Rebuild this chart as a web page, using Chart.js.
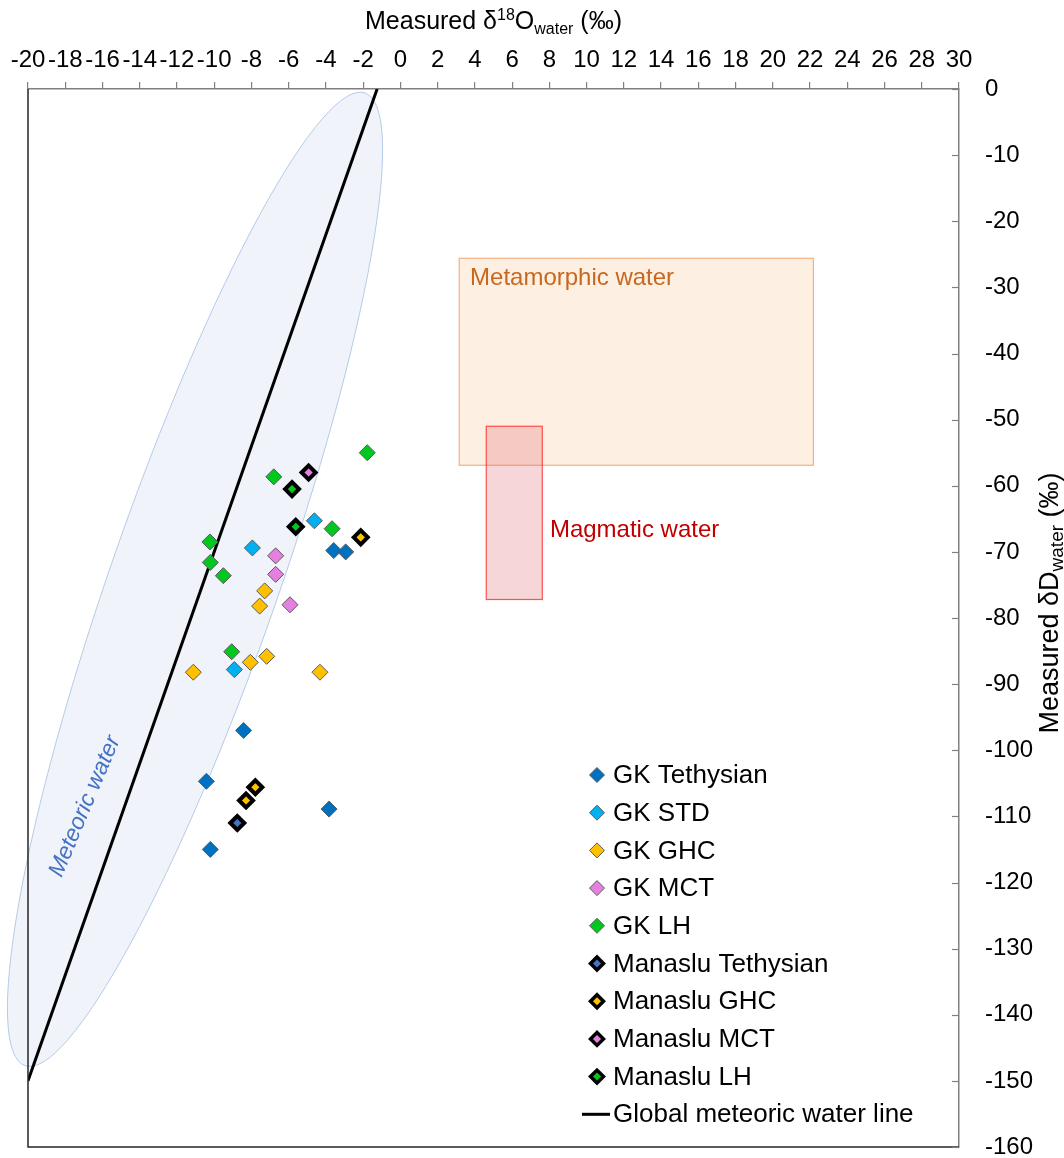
<!DOCTYPE html>
<html lang="en">
<head>
<meta charset="UTF-8">
<title>Measured δD vs δ18O of water</title>
<script src="https://cdn.jsdelivr.net/npm/chart.js"></script>
<style>
  html, body { margin: 0; padding: 0; background: #fff; }
  #wrap { width: 1064px; height: 1158px; position: relative; }
</style>
</head>
<body>
<div id="wrap"><canvas id="isoChart"></canvas></div>
<script>
// values: x = δ18O water, y = δD water (‰)
const gkTethysianX = [-3.58, -2.94, -8.42, -10.42, -3.83, -10.21];
const gkTethysianY = [-69.8, -70.0, -97.0, -104.7, -108.9, -115.0];
const gkStdX = [-4.62, -7.95, -8.92];
const gkStdY = [-65.3, -69.4, -87.8];
const gkGhcX = [-7.29, -7.56, -8.06, -7.18, -11.12, -4.32];
const gkGhcY = [-75.9, -78.2, -86.7, -85.8, -88.2, -88.2];
const gkMctX = [-6.70, -6.70, -5.93];
const gkMctY = [-70.6, -73.4, -78.0];
const gkLhX = [-1.78, -6.80, -3.67, -10.23, -10.21, -9.51, -9.06];
const gkLhY = [-55.0, -58.65, -66.5, -68.5, -71.6, -73.6, -85.1];
const manTethysianX = [-8.76];
const manTethysianY = [-111.0];
const manGhcX = [-2.13, -7.79, -8.29];
const manGhcY = [-67.8, -105.6, -107.6];
const manMctX = [-4.93];
const manMctY = [-58.0];
const manLhX = [-5.82, -5.62];
const manLhY = [-60.5, -66.2];
// global meteoric water line dD = 8*d18O + 10
const gmwlX = [-20, -1.25];
const gmwlY = [-150, 0];

// reference fields (data units)
const metamorphicBox = [3.16, 22.18, -25.6, -56.9];   // x0, x1, y0, y1
const magmaticBox = [4.61, 7.62, -51.0, -77.2];
const meteoricTips = [[-1.9, -0.6], [-20.16, -147.7]];

const xTicksMin = -20, xTicksMax = 30, xStep = 2;
const yTicksMin = -160, yTicksMax = 0, yStep = 10;

function pts(xs, ys) {
  return xs.map((v, i) => ({ x: v, y: ys[i] }));
}

const FONT = "'Liberation Sans', Arial, sans-serif";
Chart.defaults.font.family = FONT;
Chart.defaults.color = '#000';

function gk(label, xs, ys, color) {
  return {
    label: label, data: pts(xs, ys),
    backgroundColor: color, borderColor: '#5a5a5a', borderWidth: 1,
    pointStyle: 'rectRot', pointRadius: 8, pointHoverRadius: 8,
    manaslu: false
  };
}
function man(label, xs, ys, color) {
  return {
    label: label, data: pts(xs, ys),
    backgroundColor: color, borderColor: '#000', borderWidth: 4,
    pointStyle: 'rectRot', pointRadius: 7, pointHoverRadius: 7,
    manaslu: true
  };
}

const datasets = [
  gk('GK Tethysian', gkTethysianX, gkTethysianY, '#0070c0'),
  gk('GK STD', gkStdX, gkStdY, '#00b0f0'),
  gk('GK GHC', gkGhcX, gkGhcY, '#ffc000'),
  gk('GK MCT', gkMctX, gkMctY, '#e57fe0'),
  gk('GK LH', gkLhX, gkLhY, '#00c81e'),
  man('Manaslu Tethysian', manTethysianX, manTethysianY, '#4472c4'),
  man('Manaslu GHC', manGhcX, manGhcY, '#ffc000'),
  man('Manaslu MCT', manMctX, manMctY, '#e57fe0'),
  man('Manaslu LH', manLhX, manLhY, '#00c81e'),
  {
    label: 'Global meteoric water line', data: pts(gmwlX, gmwlY),
    showLine: true, borderColor: '#000', borderWidth: 3,
    pointRadius: 0, pointHoverRadius: 0, fill: false, isLine: true
  }
];

function diamond(ctx, x, y, r, fill, stroke, lw) {
  ctx.beginPath();
  ctx.moveTo(x - r, y);
  ctx.lineTo(x, y - r);
  ctx.lineTo(x + r, y);
  ctx.lineTo(x, y + r);
  ctx.closePath();
  ctx.fillStyle = fill;
  ctx.fill();
  ctx.lineWidth = lw;
  ctx.strokeStyle = stroke;
  ctx.stroke();
}

const decor = {
  id: 'decor',
  beforeDatasetsDraw(chart) {
    const { ctx, scales: { x, y } } = chart;
    ctx.save();

    // meteoric water ellipse
    const p1 = [x.getPixelForValue(meteoricTips[0][0]), y.getPixelForValue(meteoricTips[0][1])];
    const p2 = [x.getPixelForValue(meteoricTips[1][0]), y.getPixelForValue(meteoricTips[1][1])];
    const cx = (p1[0] + p2[0]) / 2, cy = (p1[1] + p2[1]) / 2;
    const a = Math.hypot(p1[0] - p2[0], p1[1] - p2[1]) / 2;
    const ang = Math.atan2(p1[1] - p2[1], p1[0] - p2[0]);
    ctx.beginPath();
    ctx.ellipse(cx, cy, a, 84, ang, 0, Math.PI * 2);
    ctx.fillStyle = '#f0f4fa';
    ctx.fill();
    ctx.lineWidth = 1;
    ctx.strokeStyle = '#b4cbe6';
    ctx.stroke();

    // metamorphic box
    let bx0 = x.getPixelForValue(metamorphicBox[0]), bx1 = x.getPixelForValue(metamorphicBox[1]);
    let by0 = y.getPixelForValue(metamorphicBox[2]), by1 = y.getPixelForValue(metamorphicBox[3]);
    ctx.fillStyle = '#fdefe2';
    ctx.fillRect(bx0, by0, bx1 - bx0, by1 - by0);
    ctx.strokeStyle = '#f4b183';
    ctx.lineWidth = 1.2;
    ctx.strokeRect(bx0, by0, bx1 - bx0, by1 - by0);

    // magmatic box
    bx0 = x.getPixelForValue(magmaticBox[0]); bx1 = x.getPixelForValue(magmaticBox[1]);
    by0 = y.getPixelForValue(magmaticBox[2]); by1 = y.getPixelForValue(magmaticBox[3]);
    ctx.fillStyle = 'rgba(220, 90, 100, 0.25)';
    ctx.fillRect(bx0, by0, bx1 - bx0, by1 - by0);
    ctx.strokeStyle = 'rgba(255, 30, 30, 0.75)';
    ctx.lineWidth = 1.2;
    ctx.strokeRect(bx0, by0, bx1 - bx0, by1 - by0);

    // field labels
    ctx.font = '24px ' + FONT;
    ctx.textBaseline = 'middle';
    ctx.textAlign = 'left';
    ctx.fillStyle = '#c8681e';
    ctx.fillText('Metamorphic water', x.getPixelForValue(3.74), y.getPixelForValue(-28.6));
    ctx.fillStyle = '#c00000';
    ctx.fillText('Magmatic water', x.getPixelForValue(8.03), y.getPixelForValue(-66.7));

    ctx.translate(x.getPixelForValue(-16.94), y.getPixelForValue(-108.5));
    ctx.rotate(-67 * Math.PI / 180);
    ctx.textAlign = 'center';
    ctx.fillStyle = '#4472c4';
    ctx.font = 'italic 23px ' + FONT;
    ctx.fillText('Meteoric water', 0, 0);
    ctx.restore();
  },
  afterDatasetsDraw(chart) {
    const { ctx, chartArea: ca, scales: { x, y } } = chart;
    ctx.save();
    // left and bottom frame
    ctx.strokeStyle = '#262626';
    ctx.lineWidth = 1.5;
    ctx.beginPath();
    ctx.moveTo(ca.left, ca.top);
    ctx.lineTo(ca.left, ca.bottom);
    ctx.lineTo(ca.right, ca.bottom);
    ctx.stroke();

    // inward ticks on the right axis
    ctx.strokeStyle = '#808080';
    ctx.lineWidth = 1.2;
    for (let v = yTicksMin; v <= yTicksMax; v += yStep) {
      const py = Math.round(y.getPixelForValue(v)) + 0.5;
      ctx.beginPath();
      ctx.moveTo(ca.right - 7, py);
      ctx.lineTo(ca.right, py);
      ctx.stroke();
    }

    // legend
    const lx = 597, tx = 613, ly0 = 775, dy = 37.7;
    ctx.font = '26px ' + FONT;
    ctx.textBaseline = 'middle';
    ctx.textAlign = 'left';
    chart.data.datasets.forEach((ds, i) => {
      const ly = ly0 + i * dy;
      if (ds.isLine) {
        ctx.strokeStyle = ds.borderColor;
        ctx.lineWidth = 3;
        ctx.beginPath();
        ctx.moveTo(582, ly);
        ctx.lineTo(610, ly);
        ctx.stroke();
      } else if (ds.manaslu) {
        diamond(ctx, lx, ly, 6.5, ds.backgroundColor, '#000', 3.5);
      } else {
        diamond(ctx, lx, ly, 7.5, ds.backgroundColor, '#5a5a5a', 1);
      }
      ctx.fillStyle = '#000';
      ctx.fillText(ds.label, tx, ly + 1);
    });
    ctx.restore();
  },
  afterDraw(chart) {
    const { ctx, chartArea: ca } = chart;
    ctx.save();
    ctx.fillStyle = '#000';
    ctx.textBaseline = 'alphabetic';
    const big = '25px ' + FONT, small = '16px ' + FONT;
    function drawParts(parts, cx, base) {
      let w = 0;
      parts.forEach(p => { ctx.font = p[1]; w += ctx.measureText(p[0]).width; });
      let px = cx - w / 2;
      parts.forEach(p => {
        ctx.font = p[1];
        ctx.fillText(p[0], px, base + p[2]);
        px += ctx.measureText(p[0]).width;
      });
    }
    ctx.textAlign = 'left';
    drawParts([
      ['Measured δ', big, 0], ['18', small, -9], ['O', big, 0], ['water', small, 5], [' (‰)', big, 0]
    ], (ca.left + ca.right) / 2, 29);

    const bigV = '27px ' + FONT, smallV = '19px ' + FONT;
    ctx.translate(1049, 603);
    ctx.rotate(-Math.PI / 2);
    drawParts([['Measured δD', bigV, 0], ['water', smallV, 5], [' (‰)', bigV, 0]], 0, 9);
    ctx.restore();
  }
};

new Chart(document.getElementById('isoChart'), {
  type: 'scatter',
  data: { datasets: datasets },
  options: {
    responsive: true,
    maintainAspectRatio: false,
    animation: false,
    layout: { padding: { left: 28, right: 0, top: 0, bottom: 11 } },
    plugins: {
      legend: { display: false },
      tooltip: { enabled: false },
      title: { display: false }
    },
    scales: {
      x: {
        type: 'linear',
        position: 'top',
        min: xTicksMin, max: xTicksMax,
        afterFit(scale) {
          scale.height = 89;
          scale.paddingLeft = 0;
          scale.paddingRight = 0;
        },
        ticks: {
          stepSize: xStep, autoSkip: false, maxRotation: 0, minRotation: 0,
          padding: 7, color: '#000', font: { size: 24 }
        },
        grid: {
          display: true, drawOnChartArea: false, drawTicks: true,
          tickLength: 7, color: '#808080', lineWidth: 1.2
        },
        border: { display: true, color: '#808080', width: 1.5 }
      },
      y: {
        type: 'linear',
        position: 'right',
        min: yTicksMin, max: yTicksMax,
        afterFit(scale) {
          scale.width = 105;
          scale.paddingTop = 0;
          scale.paddingBottom = 0;
        },
        ticks: {
          stepSize: yStep, autoSkip: false, padding: 18,
          color: '#000', font: { size: 24 }
        },
        grid: { display: false },
        border: { display: true, color: '#808080', width: 1.5 }
      }
    }
  },
  plugins: [decor]
});
</script>
</body>
</html>
